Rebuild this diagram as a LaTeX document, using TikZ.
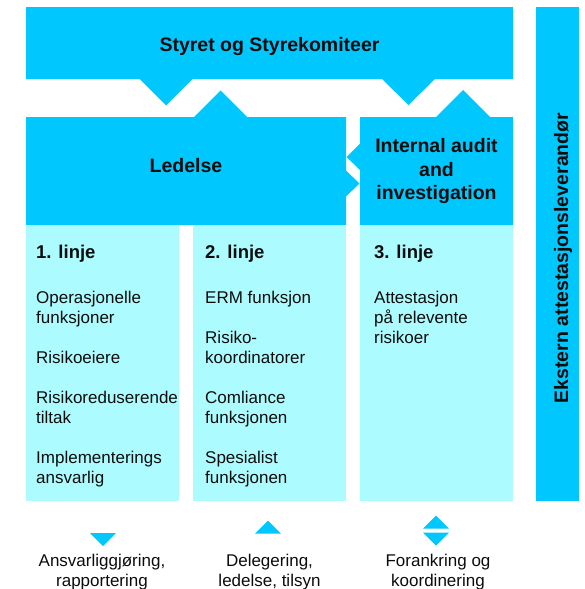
\documentclass[tikz,border=0pt]{standalone}
\usepackage{fontspec}
\setmainfont{Liberation Sans}
\definecolor{dcyan}{RGB}{0,200,255}
\definecolor{lcyan}{RGB}{172,252,255}
\definecolor{ink}{RGB}{12,12,12}
\begin{document}
\begin{tikzpicture}[x=1pt,y=-1pt,
  darkfill/.style={fill=dcyan,draw=none},
  lightfill/.style={fill=lcyan,draw=none},
  bighead/.style={font=\fontsize{19.5}{23}\selectfont\bfseries,text=ink,inner sep=0,anchor=base},
  linehead/.style={font=\fontsize{18.5}{22}\selectfont\bfseries,text=ink,inner sep=0,anchor=base west},
  bodytxt/.style={font=\fontsize{17}{20}\selectfont,text=ink,inner sep=0,anchor=base west},
  foottxt/.style={font=\fontsize{17}{20}\selectfont,text=ink,inner sep=0,anchor=base},
  marker/.style={fill=dcyan,draw=none}]
\useasboundingbox (0,0) rectangle (585,589);
% top box
\path[darkfill] (26,7) -- (513,7) -- (513,79) -- (435,79) -- (408.5,105) -- (382,79)
  -- (192.5,79) -- (166,105.5) -- (139.5,79) -- (26,79) -- cycle;
% Ledelse box
\path[darkfill] (26,117) -- (194,117) -- (220.5,90.5) -- (247,117) -- (346,117)
  -- (346,170.5) -- (359.5,183.5) -- (346,196.5) -- (346,225) -- (26,225) -- cycle;
% Internal audit box
\path[darkfill] (360,117) -- (436,117) -- (463,90) -- (490,117) -- (513,117)
  -- (513,225) -- (360,225) -- (360,170) -- (346.5,157) -- (360,143.5) -- cycle;
% right bar
\path[darkfill] (536,7) rectangle (579,501);
% light columns
\path[lightfill] (26,225) rectangle (179,501);
\path[lightfill] (193,225) rectangle (346,501);
\path[lightfill] (360,225) rectangle (513,501);
% headings
\node[bighead] (styret) at (269.5,51) {Styret og Styrekomiteer};
\node[bighead] (ledelse) at (186,172.5) {Ledelse};
\node[bighead] (ia1) at (436.5,152.5) {Internal audit};
\node[bighead] (ia2) at (436.5,176) {and};
\node[bighead] (ia3) at (436.5,199) {investigation};
\node[bighead,rotate=90] (ekstern) at (568,258) {Ekstern attestasjonsleverandør};
% line headings
\node[linehead] (l1) at (36,258) {1. linje};
\node[linehead] (l2) at (205,258) {2. linje};
\node[linehead] (l3) at (374,258) {3. linje};
% column texts
\foreach \t/\yy [count=\i] in {Operasjonelle/303, funksjoner/323, Risikoeiere/363,
  Risikoreduserende/403, tiltak/423, Implementerings/463, ansvarlig/483}
  \node[bodytxt] (a\i) at (36,\yy) {\t};
\foreach \t/\yy [count=\i] in {ERM funksjon/303, Risiko-/343, koordinatorer/363,
  Comliance/403, funksjonen/423, Spesialist/463, funksjonen/483}
  \node[bodytxt] (b\i) at (205,\yy) {\t};
\foreach \t/\yy [count=\i] in {Attestasjon/303, på relevente/323, risikoer/343}
  \node[bodytxt] (c\i) at (374,\yy) {\t};
% markers
\path[marker] (90,533) -- (116,533) -- (103,546) -- cycle;
\path[marker] (255,533.5) -- (281,533.5) -- (268,520.5) -- cycle;
\path[marker] (423,528.5) -- (449,528.5) -- (436,515.5) -- cycle;
\path[marker] (423,532.5) -- (449,532.5) -- (436,545.5) -- cycle;
% footer texts
\node[foottxt] (f1a) at (102,566) {Ansvarliggjøring,};
\node[foottxt] (f1b) at (102,586) {rapportering};
\node[foottxt] (f2a) at (269.5,566) {Delegering,};
\node[foottxt] (f2b) at (269.5,586) {ledelse, tilsyn};
\node[foottxt] (f3a) at (438,566) {Forankring og};
\node[foottxt] (f3b) at (438,586) {koordinering};
\end{tikzpicture}
\end{document}
